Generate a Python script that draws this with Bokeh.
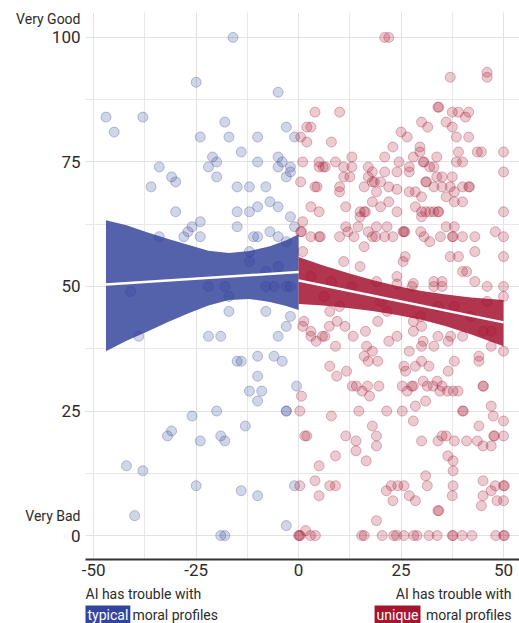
from bokeh.plotting import figure
from bokeh.models import Range1d, FixedTicker, Label, ColumnDataSource, BoxAnnotation
from bokeh.embed import file_html
from bokeh.resources import INLINE

# ---- ratings where the AI struggles with typical profiles (x < 0) ----
typical_x = [
    -16, -25, -5, -47, -38, -45, -18, -24, -17, -10,
    -3, -1, -14, -21, -20, -22, -20, -10, -5, -4,
    -5, -2, -2, -3, -34, -31, -30, -36, -15, -12,
    -8, -7, -10, -5, -15, -12, -30, -2, -24, -26,
    -27, -28, -24, -15, -34, -11, -10, -7, -5, -1,
    -12, -12, -3, -5, -8, -41, -22, -18, -17, -8,
    -6, -3, -2, -17, -8, -2, -3, -5, -22, -19,
    -39, -15, -14, -10, -6, -4, -10, -12, -9, -10,
    -0.5, -20, -3, -3, -26, -13, -31, -32, -19, -18,
    -24, -42, -38, -25, -14, -10, -1, -40, -3, -19, -18,
]
typical_y = [
    100, 91, 89, 84, 84, 81, 83, 80, 80, 80,
    82, 80, 77, 76, 75, 74, 72, 75, 76, 75,
    74, 74, 73, 72, 74, 72, 71, 70, 70, 70,
    70, 67, 66, 66, 65, 65, 65, 64, 63, 62,
    61, 60, 60, 62, 60, 60, 60, 61, 60, 62,
    57, 55, 59, 54, 53, 49, 50, 50, 48, 50,
    50, 50, 50, 45, 45, 44, 42, 40, 40, 40,
    40, 35, 35, 36, 36, 35, 32, 29, 29, 27,
    30, 25, 25, 25, 24, 22, 21, 20, 20, 19,
    19, 14, 13, 10, 9, 8, 10, 4, 2, 0, 0,
]

# ---- ratings where the AI struggles with unique profiles (x > 0) ----
unique_x_upper_left = [
    21, 22, 4, 10, 2, 3, 0.5, 2, 8, 23,
    13, 21, 25, 1, 5, 9, 5, 6, 6.5, 11,
    13, 17, 18, 21, 24.5, 24, 11, 12.5, 17, 18,
    18.5, 20, 0.5, 4, 4.5, 10, 16, 19, 22, 24,
    10, 3, 5, 11.5, 15, 16, 16.3, 18, 20, 22,
    24, 15, 1, 0.5, 0.7, 3, 5, 5.3, 10, 11.5,
    12, 13.5, 14.5, 17, 18, 18.8, 19, 21.6, 21, 23,
    25.5, 1, 16, 11, 15, 24, 19, 25.5,
]
unique_y_upper_left = [
    100, 100, 85, 85, 82, 82, 80, 79, 79, 78,
    76, 76, 81, 75, 75, 75, 74, 74, 74, 74,
    74, 74, 73, 73, 75, 73, 72, 72, 72, 71,
    71, 71, 71, 70, 70, 70, 70, 69, 70, 69.5,
    69, 66, 65, 66, 65, 65, 65, 67, 66, 67,
    65, 64, 63, 61, 61, 60, 60, 60, 60, 62,
    61, 60, 62, 61, 60, 60, 62, 62, 60, 60,
    61, 57, 58, 55, 54, 52, 51, 55,
]
unique_x_upper_right = [
    37, 46, 46, 34, 34.2, 37.5, 39, 41.5, 40.7, 30,
    31.5, 36, 37.5, 26.5, 38.5, 41.5, 29.6, 28, 29.6, 33.7,
    39, 43.6, 44.6, 50, 30.4, 30.6, 27, 32, 33, 38.5,
    40, 27, 50, 33.7, 35, 37.5, 31, 31.2, 33, 35,
    37, 40, 41.5, 41.7, 27, 28.5, 30, 36, 38, 38,
    40, 28.5, 30, 31, 32, 33, 34, 34.2, 30, 50,
    25.7, 25.9, 29.8, 30.6, 32, 34.6, 36, 38, 37.5, 37.7,
    40, 43, 48, 50, 26, 37, 39, 43, 50, 40,
    41, 33, 35, 43, 28,
]
unique_y_upper_right = [
    92, 93, 92, 86, 86, 85, 85, 85, 84, 83,
    82, 83, 82, 80, 80, 80, 78, 76, 77, 76,
    77, 77, 77, 77, 75, 75, 74, 74, 74, 75,
    75, 73, 73, 72, 72, 72, 71, 71, 70, 70,
    70, 70, 70, 70, 69, 69, 68, 68, 69, 67,
    67, 66, 65, 65, 65, 65, 65, 65, 64, 65,
    61, 61, 61, 60, 59, 60, 62, 62, 60, 60,
    60, 60, 61, 60, 56, 56, 56, 57, 56, 53,
    53, 51, 51, 51, 50.6,
]
unique_x_lower_left = [
    7.6, 1.3, 1, 10, 9.4, 7.5, 11.3, 3, 3, 4.3,
    5.8, 6.4, 9, 13.3, 16.3, 19.3, 22, 24, 16.6, 18,
    16, 17, 19.3, 7.6, 11.7, 9.3, 13.1, 14.1, 16.8, 19.6,
    15.5, 17.3, 0.7, 0.3, 14.7, 21.5, 25.3, 8, 18, 1.5,
    2, 11.5, 19, 14, 19, 14, 9, 16.5, 5, 4,
    0.3, 7.6, 9, 5, 21.4, 22.6, 24.2, 25.7, 23, 19,
    1.7, 0, 0.2, 0.4, 2.9, 4.1, 15.4, 16, 20.4, 23.2,
    23.9, 25.7, 6.2, 13, 21.6, 24,
]
unique_y_lower_left = [
    45, 43, 42, 46, 43, 42, 42, 41, 40, 39,
    40, 40, 38, 40, 41, 43, 39, 40, 38, 37,
    36, 35, 35, 34, 33, 32, 30, 30, 30, 30,
    29, 28, 28, 25, 25, 25, 25, 24, 22, 20,
    20, 20, 20, 19, 18, 17, 16, 15, 14, 11,
    10, 10, 10, 8, 9, 10, 10, 10, 7, 3,
    1, 0, 0, 0, 0, 0, 0, 0, 0, 0,
    0, 0, 48, 50, 45, 50.5,
]
unique_x_lower_right = [
    27.7, 33, 35, 46, 50, 50, 28, 30, 28, 34,
    37.1, 36.5, 40, 30.4, 30, 33, 47, 50, 45, 47,
    27, 44, 44, 25.7, 26.1, 28.5, 30, 31.8, 38, 36.5,
    30.4, 33.8, 25.3, 26.5, 27.6, 28, 31.4, 32.8, 35, 34.5,
    36.3, 37.7, 38.9, 45, 45.1, 31, 47, 47.5, 50, 28.5,
    40, 40.2, 28, 44, 30, 34, 35, 36, 38, 41,
    43.6, 45, 47, 47.6, 47.8, 50, 36.4, 37.7, 37.7, 31,
    31.4, 27, 28.5, 37.7, 37.5, 45, 47, 48, 48.4, 50,
    50.2, 50, 44.6, 34, 34.2, 28.1, 28.9, 31.8, 33.8, 37.5,
    37.7, 39.9, 42.3, 48.1, 50, 50.2, 29.8, 34, 38, 42,
    46, 20, 8, 3, 45,
]
unique_y_lower_right = [
    50, 50, 50, 50, 50, 48, 43, 42, 41, 40,
    40, 39, 40, 39, 38, 38, 38, 37, 41, 41,
    37, 36, 35, 34, 33, 34, 35, 34, 35, 33,
    31, 31, 30, 29, 30, 30, 30, 30, 30, 29,
    29, 29, 29, 30, 30, 27, 26, 24, 23, 26,
    25, 25, 23, 22, 19, 19, 20, 20, 19, 19,
    19, 18, 18, 20, 20, 20, 16, 15, 13, 12,
    10, 8, 7, 10, 8, 11, 9, 10, 7, 10,
    10, 7, 6, 5, 5, 0, 0, 0, 0, 0,
    0, 0, 0, 0, 0, 0, 44, 46, 46, 44,
    47, 47, 51, 52, 8,
]

unique_x = unique_x_upper_left + unique_x_upper_right + unique_x_lower_left + unique_x_lower_right
unique_y = unique_y_upper_left + unique_y_upper_right + unique_y_lower_left + unique_y_lower_right

# ---- linear fits with confidence bands ----
typical_fit_x = [-47, 0]
typical_fit_y = [50.4, 52.9]
typical_band_x = [-47, -42, -37, -32, -27, -22, -17, -12, -7, -3, 0]
typical_band_upper = [63.3, 62.3, 60.9, 59.6, 58.4, 57.2, 56.7, 57.1, 58.1, 59.3, 60.5]
typical_band_lower = [37.0, 39.1, 40.9, 42.8, 44.6, 46.2, 47.3, 47.5, 46.9, 46.1, 45.3]

unique_fit_x = [0, 50]
unique_fit_y = [51.2, 42.8]
unique_band_x = [0, 6, 12, 18, 24, 30, 36, 42, 50]
unique_band_upper = [55.9, 54.2, 52.7, 51.3, 50.1, 49.1, 48.4, 47.8, 47.3]
unique_band_lower = [46.5, 46.2, 45.7, 45.1, 44.3, 43.3, 42.0, 40.4, 38.0]

x_ticks = [-50, -25, 0, 25, 50]
x_tick_labels = ["-50", "-25", "0", "25", "50"]
x_minor = [-37.5, -12.5, 12.5, 37.5]
y_ticks = [0, 25, 50, 75, 100]
y_minor = [12.5, 37.5, 62.5, 87.5]

# panel extent in data units (axes sit on these edges)
X_LEFT, X_RIGHT = -52, 53.9
Y_BOTTOM, Y_TOP = -4.8, 105

BLUE_BAND = "#4B5AA8"
RED_BAND = "#AE2A47"
BLUE_PT = "#2F3E96"
RED_PT = "#A3102F"
FONT = "Roboto"
TEXT = "#2b2b2b"

# the frame fills the canvas so that annotations in the margins stay visible
p = figure(
    width=519, height=623,
    x_range=Range1d(-72.74, X_RIGHT), y_range=Range1d(-17.65, 107.41),
    min_border=0,
    output_backend="svg", toolbar_location=None,
    outline_line_color=None, background_fill_color="white",
)

p.xaxis.ticker = FixedTicker(ticks=x_ticks, minor_ticks=x_minor)
p.yaxis.ticker = FixedTicker(ticks=y_ticks, minor_ticks=y_minor)
p.xaxis.major_label_overrides = {t: s for t, s in zip(x_ticks, x_tick_labels)}
p.xaxis.fixed_location = Y_BOTTOM
p.yaxis.fixed_location = X_LEFT
p.xaxis.bounds = (X_LEFT, X_RIGHT)

for g in (p.xgrid, p.ygrid):
    g.grid_line_color = "#E2E2E2"
    g.grid_line_width = 1
    g.minor_grid_line_color = "#E8E8E8"
    g.minor_grid_line_width = 1

# keep grid lines inside the panel
for kw in (dict(right=X_LEFT), dict(top=Y_BOTTOM), dict(bottom=Y_TOP)):
    p.add_layout(BoxAnnotation(fill_color="white", fill_alpha=1, line_color=None,
                               level="underlay", **kw))

for ax in (p.xaxis, p.yaxis):
    ax.major_tick_line_color = None
    ax.minor_tick_line_color = None
    ax.major_tick_in = 0
    ax.major_tick_out = 0
    ax.minor_tick_in = 0
    ax.minor_tick_out = 0
    ax.major_label_text_font = FONT
    ax.major_label_text_font_size = "17px"
    ax.major_label_text_color = TEXT

p.xaxis.axis_line_color = "#333333"
p.xaxis.axis_line_width = 2
p.xaxis.major_label_standoff = 5
p.yaxis.axis_line_color = None
p.yaxis.major_label_standoff = 5

# confidence bands
p.varea(x=typical_band_x, y1=typical_band_lower, y2=typical_band_upper,
        fill_color=BLUE_BAND, fill_alpha=0.95)
p.varea(x=unique_band_x, y1=unique_band_lower, y2=unique_band_upper,
        fill_color=RED_BAND, fill_alpha=0.95)

# individual ratings
typical_src = ColumnDataSource(dict(x=typical_x, y=typical_y))
unique_src = ColumnDataSource(dict(x=unique_x, y=unique_y))
p.scatter("x", "y", source=typical_src, size=10, marker="circle",
          fill_color=BLUE_PT, fill_alpha=0.22, line_color=BLUE_PT, line_alpha=0.3, line_width=1)
p.scatter("x", "y", source=unique_src, size=10, marker="circle",
          fill_color=RED_PT, fill_alpha=0.22, line_color=RED_PT, line_alpha=0.3, line_width=1)

# fitted lines
p.line(typical_fit_x, typical_fit_y, line_color="white", line_width=2.5)
p.line(unique_fit_x, unique_fit_y, line_color="white", line_width=2.5)

# scale anchors above the 100 / 0 tick labels
p.add_layout(Label(x=X_LEFT, y=100, x_offset=-5, y_offset=18, text="Very Good",
                   text_align="right", text_baseline="middle",
                   text_font=FONT, text_font_size="14px", text_color=TEXT))
p.add_layout(Label(x=X_LEFT, y=0, x_offset=-5, y_offset=20, text="Very Bad",
                   text_align="right", text_baseline="middle",
                   text_font=FONT, text_font_size="14px", text_color=TEXT))

# captions under the x axis
cap = dict(text_font=FONT, text_font_size="14px", text_baseline="middle")
p.add_layout(Label(x=X_LEFT, y=Y_BOTTOM, x_offset=0, y_offset=-35, text="AI has trouble with",
                   text_align="left", text_color=TEXT, **cap))
p.add_layout(Label(x=X_LEFT, y=Y_BOTTOM, x_offset=0, y_offset=-56, text="typical",
                   text_align="left", text_color="white",
                   background_fill_color="#33449E", background_fill_alpha=1, padding=2, **cap))
p.add_layout(Label(x=X_LEFT, y=Y_BOTTOM, x_offset=47, y_offset=-56, text="moral profiles",
                   text_align="left", text_color=TEXT, **cap))

p.add_layout(Label(x=X_RIGHT, y=Y_BOTTOM, x_offset=-8, y_offset=-35, text="AI has trouble with",
                   text_align="right", text_color=TEXT, **cap))
p.add_layout(Label(x=X_RIGHT, y=Y_BOTTOM, x_offset=-8, y_offset=-56, text="moral profiles",
                   text_align="right", text_color=TEXT, **cap))
p.add_layout(Label(x=X_RIGHT, y=Y_BOTTOM, x_offset=-99, y_offset=-56, text="unique",
                   text_align="right", text_color="white",
                   background_fill_color="#A5152F", background_fill_alpha=1, padding=2, **cap))

open("out.html", "w").write(file_html(p, INLINE))
